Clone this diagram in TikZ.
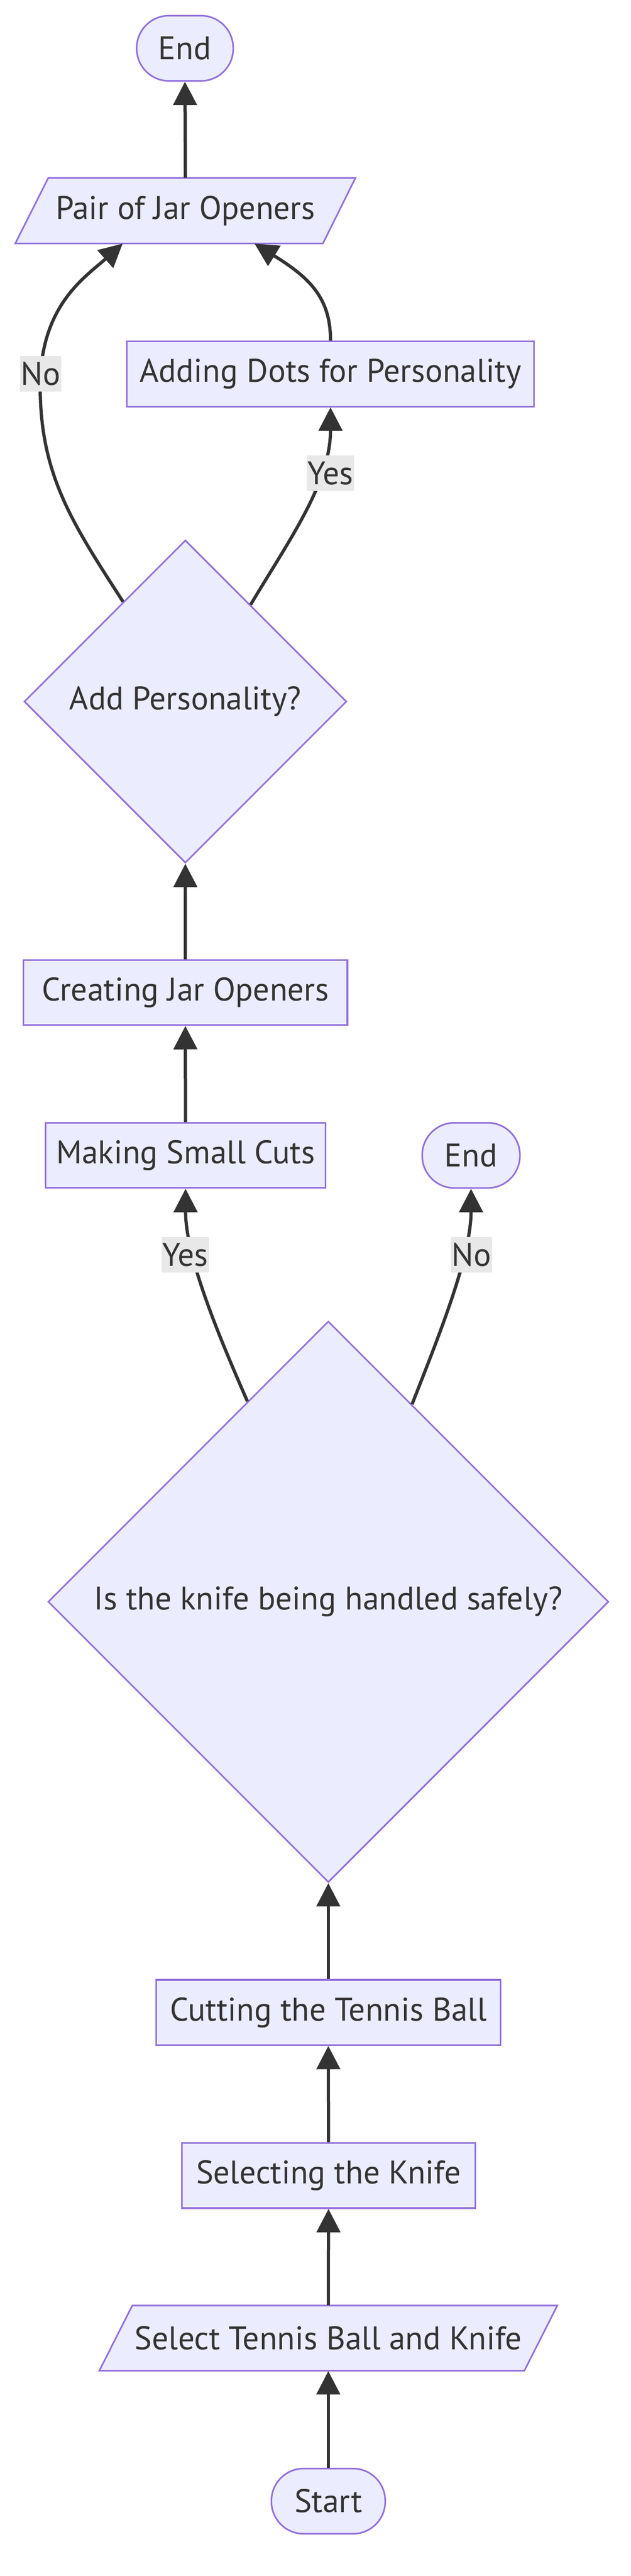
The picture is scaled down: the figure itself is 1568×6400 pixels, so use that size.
\documentclass[tikz,border=0pt]{standalone}
\usepackage{fontspec}
\setmainfont{PT Sans}
\usetikzlibrary{arrows.meta,shapes.geometric,calc}
\definecolor{nfill}{HTML}{ECECFF}
\definecolor{nline}{HTML}{9370DB}
\definecolor{eline}{HTML}{333333}
\definecolor{lblbg}{HTML}{E8E8E8}
\begin{document}
\begin{tikzpicture}[x=0.25pt,y=-0.25pt,
  every node/.style={font=\fontsize{20.3}{24}\selectfont, text=eline},
  box/.style={draw=nline, fill=nfill, line width=1pt, rectangle, inner sep=0pt, minimum height=40.5pt},
  term/.style={box, rounded corners=20pt},
  dec/.style={draw=nline, fill=nfill, line width=1pt, diamond, aspect=1, inner sep=0pt},
  para/.style={draw=nline, fill=nfill, line width=1pt},
  ptext/.style={inner sep=0pt, minimum height=40.5pt},
  conn/.style={draw=eline, line width=2pt, -{Triangle[length=14.5pt,width=14.5pt]}},
  lbl/.style={fill=lblbg, inner xsep=0.5pt, inner ysep=0pt, minimum height=22pt}
]
\useasboundingbox (0,0) rectangle (1568,6400);

% nodes
\node[term, minimum width=60pt] (end1) at (460,120) {End};
\path[para] (120,442) -- (884,442) -- (803,605) -- (38,605) -- cycle;
\node[ptext, minimum width=191pt] (pair) at (461,523.5) {Pair of Jar Openers};
\node[box, minimum width=253pt] (dots) at (822,929) {Adding Dots for Personality};
\node[dec, minimum width=200.5pt, minimum height=200.5pt] (ap) at (461,1743) {Add Personality?};
\node[box, minimum width=201.5pt] (create) at (461,2466) {Creating Jar Openers};
\node[box, minimum width=174.25pt] (cuts) at (461.5,2870.5) {Making Small Cuts};
\node[term, minimum width=60.75pt] (end2) at (1171.5,2870.5) {End};
\node[dec, minimum width=348.5pt, minimum height=348.5pt] (knife) at (816.5,3979.5) {Is the knife being handled safely?};
\node[box, minimum width=214.25pt] (cut) at (816.5,5000) {Cutting the Tennis Ball};
\node[box, minimum width=182.5pt] (sel) at (817,5405) {Selecting the Knife};
\path[para] (329,5728) -- (1386,5728) -- (1304,5890) -- (247,5890) -- cycle;
\node[ptext, minimum width=244pt] (stb) at (816.5,5809) {Select Tennis Ball and Knife};
\node[term, minimum width=70.75pt] (start) at (816.5,6214) {Start};

% connectors
\draw[conn] (start.north) -- (stb.south);
\draw[conn] (stb.north) -- (sel.south);
\draw[conn] (sel.north) -- (cut.south);
\draw[conn] (cut.north) -- (knife.south);
\draw[conn] (knife.112.5) .. controls (540,3310) and (461.5,3120) .. (cuts.south);
\draw[conn] (knife.67.5) .. controls (1095,3310) and (1171.5,3120) .. (end2.south);
\draw[conn] (cuts.north) -- (create.south);
\draw[conn] (create.north) -- (ap.south);
\draw[conn] (ap.56.8) .. controls (720,1340) and (822,1200) .. (dots.south);
\draw[conn] (ap.122.4) .. controls (180,1300) and (100,1180) .. (100,960) .. controls (100,760) and (210,690) .. ([xshift=-39pt]pair.south);
\draw[conn] (dots.north) .. controls (822,740) and (770,690) .. ([xshift=43pt]pair.south);
\draw[conn] (pair.north) -- (end1.south);

% edge labels
\node[lbl] (lno1) at (101,929) {No};
\node[lbl] (lyes1) at (821.5,1176) {Yes};
\node[lbl] (lyes2) at (461,3117) {Yes};
\node[lbl] (lno2) at (1172.5,3117) {No};
\end{tikzpicture}
\end{document}
